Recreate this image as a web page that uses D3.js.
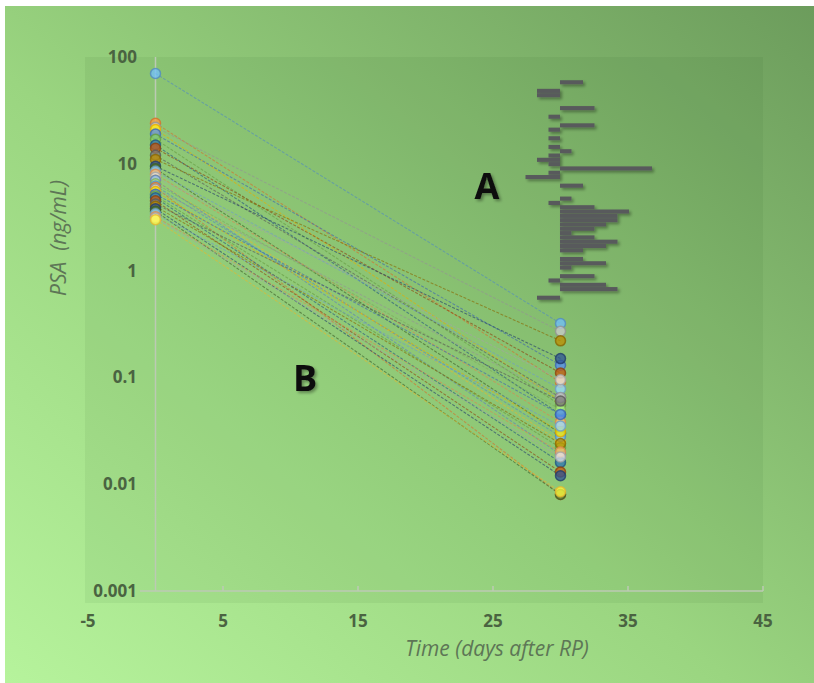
<!DOCTYPE html>
<html>
<head>
<meta charset="utf-8">
<script src="https://cdn.jsdelivr.net/npm/d3@7"></script>
<style>
  html, body { margin: 0; padding: 0; background: #fff; }
  svg { display: block; }
</style>
</head>
<body>
<div id="chart"></div>
<script>
// PSA per patient, before RP (day 0) and at day 30
const days = [0, 30]
const psaDay0 = [70, 24, 22, 21, 19, 17, 15, 14, 12, 11, 9.5, 9, 8.5, 8, 7.5, 7, 7, 6.5, 6.2, 6,
  5.8, 5.5, 5.2, 5, 4.8, 4.5, 4.2, 4, 3.8, 3.6, 3.4, 3.2, 3.1, 3]
const psaDay30 = [0.32, 0.09, 0.27, 0.06, 0.13, 0.055, 0.045, 0.11, 0.065, 0.22, 0.15, 0.03, 0.078, 0.038, 0.095, 0.025, 0.019, 0.05, 0.028, 0.008,
  0.065, 0.031, 0.045, 0.022, 0.016, 0.013, 0.06, 0.024, 0.012, 0.008, 0.035, 0.02, 0.018, 0.0085]

// axis ticks
const xTicks = [-5, 5, 15, 25, 35, 45]
const yTicks = [0.001, 0.01, 0.1, 1, 10, 100]

// inset A: one row per patient, 0 = empty row
const insetValues = [2, 0, -2, -2, 0, 0, 3, 0, -1, 0, 3, -1, 0, -1, 0, -1, 1, -1, -2, -1,
  8, -1, -3, 0, 2, 0, 0, 1, -1, 3, 6, 5, 5, 4, 3, 1, 3, 5, 4, 2,
  0, 2, 4, 1, 0, 3, -1, 4, 5, 0, -2]

const palette = ["#5B9BD5", "#ED7D31", "#A5A5A5", "#FFC000", "#4472C4", "#70AD47",
  "#255E91", "#9E480E", "#636363", "#997300", "#264478", "#43682B",
  "#7CAFDD", "#F1975A", "#B7B7B7", "#FFCD33", "#698ED0", "#8CC168"]

const width = 814, height = 683

const svg = d3.select("#chart").append("svg")
  .attr("width", width)
  .attr("height", height)

const defs = svg.append("defs")

const bg = defs.append("linearGradient")
  .attr("id", "bg")
  .attr("x1", "0%").attr("y1", "100%")
  .attr("x2", "100%").attr("y2", "0%")
bg.append("stop").attr("offset", "0%").attr("stop-color", "#b6f39c")
bg.append("stop").attr("offset", "45%").attr("stop-color", "#9ad580")
bg.append("stop").attr("offset", "100%").attr("stop-color", "#6c9c5c")

const shadow = defs.append("filter").attr("id", "shadow")
  .attr("x", "-20%").attr("y", "-50%").attr("width", "150%").attr("height", "250%")
shadow.append("feDropShadow")
  .attr("dx", 2).attr("dy", 2).attr("stdDeviation", 1.5)
  .attr("flood-color", "#000").attr("flood-opacity", 0.35)

// background + white frame at top/left
svg.append("rect").attr("width", width).attr("height", height).attr("fill", "#fff")
svg.append("rect")
  .attr("x", 5).attr("y", 6)
  .attr("width", width - 5).attr("height", height - 6)
  .attr("fill", "url(#bg)")

// scales
const x = d3.scaleLinear().domain([-5, 45]).range([88, 763])
const y = d3.scaleLog().domain([0.001, 100]).range([591, 57])

// plot area (slightly darker)
svg.append("rect")
  .attr("x", 85).attr("y", y(100))
  .attr("width", x(45) - 85).attr("height", 603 - y(100))
  .attr("fill", "rgba(20,60,10,0.06)")

// axes lines
svg.append("line")
  .attr("x1", x(0)).attr("x2", x(0))
  .attr("y1", y(100)).attr("y2", y(0.001))
  .attr("stroke", "#bccab4").attr("stroke-width", 1.5)
svg.append("line")
  .attr("x1", 140).attr("x2", x(45))
  .attr("y1", y(0.001)).attr("y2", y(0.001))
  .attr("stroke", "#bccab4").attr("stroke-width", 1.5)

svg.append("g").selectAll("line")
  .data(xTicks.slice(1))
  .join("line")
  .attr("x1", d => x(d)).attr("x2", d => x(d))
  .attr("y1", y(0.001)).attr("y2", y(0.001) - 5)
  .attr("stroke", "#bccab4").attr("stroke-width", 1.5)

const tickFont = "Liberation Sans Narrow, 'Open Sans', sans-serif"

svg.append("g").selectAll("text")
  .data(yTicks)
  .join("text")
  .attr("x", 137)
  .attr("y", d => y(d))
  .attr("dy", "0.35em")
  .attr("text-anchor", "end")
  .attr("font-family", tickFont)
  .attr("font-weight", "bold")
  .attr("font-size", 17)
  .attr("fill", "#4a6341")
  .text(d => d3.format("~g")(d))

svg.append("g").selectAll("text")
  .data(xTicks)
  .join("text")
  .attr("x", d => x(d))
  .attr("y", 621)
  .attr("dy", "0.35em")
  .attr("text-anchor", "middle")
  .attr("font-family", tickFont)
  .attr("font-weight", "bold")
  .attr("font-size", 17)
  .attr("fill", "#4a6341")
  .text(d => d)

// axis titles
svg.append("text")
  .attr("x", 497).attr("y", 656)
  .attr("text-anchor", "middle")
  .attr("font-family", "'Open Sans', sans-serif")
  .attr("font-style", "italic")
  .attr("font-size", 21)
  .attr("fill", "#5d7656")
  .text("Time (days after RP)")

svg.append("text")
  .attr("transform", "translate(66,238) rotate(-90)")
  .attr("text-anchor", "middle")
  .attr("font-family", "'Open Sans', sans-serif")
  .attr("font-style", "italic")
  .attr("font-size", 21)
  .attr("fill", "#5d7656")
  .attr("xml:space", "preserve")
  .text("PSA  (ng/mL)")

// patient lines
const patients = psaDay0.map((v, i) => ({ i, values: [v, psaDay30[i]], color: palette[i % palette.length] }))

svg.append("g").selectAll("line")
  .data(patients)
  .join("line")
  .attr("x1", x(days[0])).attr("y1", d => y(d.values[0]))
  .attr("x2", x(days[1])).attr("y2", d => y(d.values[1]))
  .attr("stroke", d => d3.color(d.color).darker(0.3))
  .attr("stroke-width", 1.1)
  .attr("stroke-dasharray", "3,1.5")
  .attr("opacity", 0.6)

// markers
const marks = patients.flatMap(p => days.map((t, k) => ({ t, v: p.values[k], color: p.color })))

svg.append("g").selectAll("circle")
  .data(marks)
  .join("circle")
  .attr("cx", d => x(d.t))
  .attr("cy", d => y(d.v))
  .attr("r", 5)
  .attr("fill", d => d3.color(d.color).brighter(0.6))
  .attr("fill-opacity", 0.75)
  .attr("stroke", d => d3.color(d.color).darker(0.3))
  .attr("stroke-width", 1.5)
  .attr("stroke-opacity", 0.8)

// inset A (horizontal bars)
const xb = d3.scaleLinear().domain([-3, 8]).range([525.5, 652])
const yb = d3.scaleBand().domain(d3.range(insetValues.length)).range([80, 300]).padding(0.05)

svg.append("g")
  .attr("filter", "url(#shadow)")
  .selectAll("rect")
  .data(insetValues.map((v, i) => ({ i, v })).filter(d => d.v !== 0))
  .join("rect")
  .attr("x", d => xb(Math.min(0, d.v)))
  .attr("y", d => yb(d.i))
  .attr("width", d => Math.abs(xb(d.v) - xb(0)))
  .attr("height", yb.bandwidth())
  .attr("fill", "#585a5c")

// panel letters
svg.append("g")
  .attr("filter", "url(#shadow)")
  .selectAll("text")
  .data([{ t: "A", px: 487, py: 199 }, { t: "B", px: 305, py: 391 }])
  .join("text")
  .attr("x", d => d.px).attr("y", d => d.py)
  .attr("text-anchor", "middle")
  .attr("font-family", "'Open Sans', sans-serif")
  .attr("font-weight", "bold")
  .attr("font-size", 36)
  .attr("fill", "#111")
  .text(d => d.t)
</script>
</body>
</html>
